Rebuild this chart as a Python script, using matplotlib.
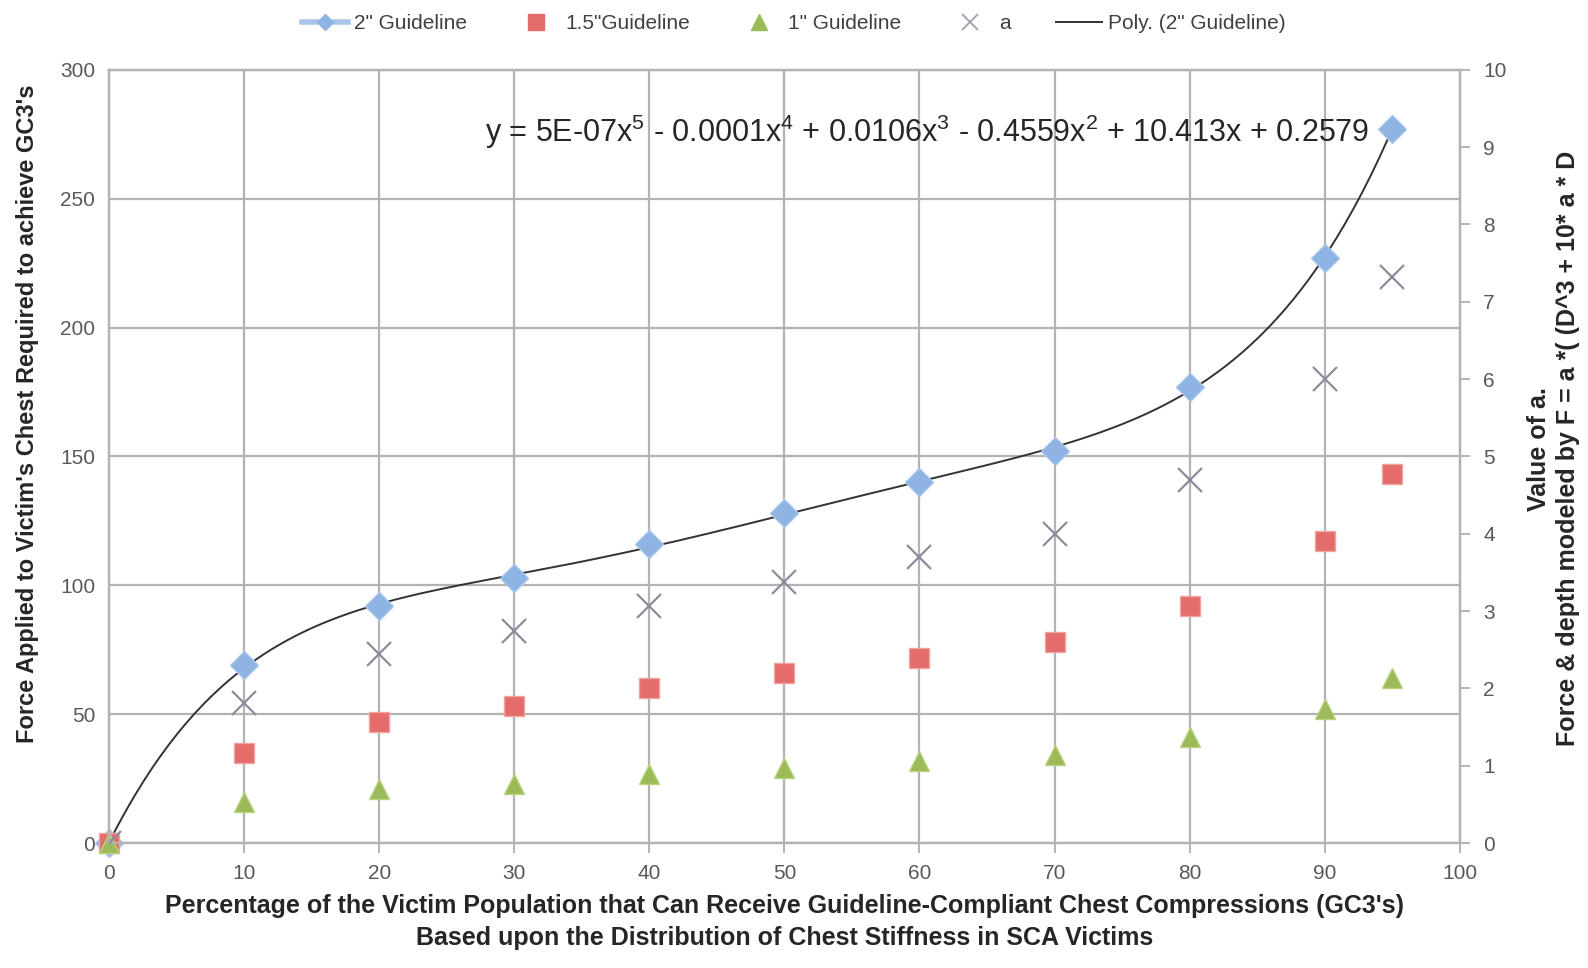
import numpy as np
import matplotlib.pyplot as plt
from matplotlib.lines import Line2D

# percent of victim population
pct = [0, 10, 20, 30, 40, 50, 60, 70, 80, 90, 95]

# force (left axis)
g2_in = [0, 69, 92, 103, 116, 128, 140, 152, 177, 227, 277]
g15_in = [0, 35, 47, 53, 60, 66, 72, 78, 92, 117, 143]
g1_in = [0, 16, 21, 23, 27, 29, 32, 34, 41, 52, 64]

# value of a (right axis)
a_val = [0, 1.81, 2.45, 2.74, 3.06, 3.37, 3.70, 4.0, 4.70, 6.0, 7.32]

eq_text = (r"y = 5E-07x$^{5}$ - 0.0001x$^{4}$ + 0.0106x$^{3}$ - 0.4559x$^{2}$"
           r" + 10.413x + 0.2579")

plt.rcParams['font.family'] = ['Liberation Sans', 'DejaVu Sans']
plt.rcParams['mathtext.default'] = 'regular'
plt.rcParams['mathtext.fontset'] = 'custom'
plt.rcParams['mathtext.rm'] = 'Liberation Sans'

tick_col = '#595959'
grid_col = '#b3b3b3'

fig = plt.figure(figsize=(15.88, 9.68), dpi=100)
ax = fig.add_axes([0.0687, 0.129, 0.8505, 0.799])
ax2 = ax.twinx()

# trendline: 5th order poly fit of the 2" data
coef = np.polyfit(pct, g2_in, 5)
xs = np.linspace(0, 95, 300)
ax.plot(xs, np.polyval(coef, xs), color='#333333', lw=1.4, zorder=3)

ax.plot(pct, g2_in, ls='none', marker='D', ms=14, color='#8eb4e3', mec='#a9c6ea', zorder=4, clip_on=False)
ax.plot(pct, g15_in, ls='none', marker='s', ms=15, color='#e46c6a', mec='#f0a3a1', zorder=4, clip_on=False)
ax.plot(pct, g1_in, ls='none', marker='^', ms=15, color='#9bbb59', mec='#b8d27d', zorder=4, clip_on=False)
ax2.plot(pct, a_val, ls='none', marker='x', ms=17, mew=1.6, color='#8c8c9c', zorder=4)

ax.text(93.3, 276, eq_text, ha='right', va='center', fontsize=22, color='#262626')

ax.set_xlim(0, 100)
ax.set_ylim(0, 300)
ax2.set_ylim(0, 10)
ax.set_xticks(range(0, 101, 10))
ax.set_yticks(range(0, 301, 50))
ax2.set_yticks(range(0, 11))

ax.grid(True, color=grid_col, lw=1.6)
ax.set_axisbelow(True)
for a in (ax, ax2):
    for s in a.spines.values():
        s.set_color(grid_col)
        s.set_linewidth(1.6)
ax.tick_params(axis='both', colors=tick_col, labelsize=15, length=7, width=1.4, color=grid_col)
ax.tick_params(axis='y', length=0, pad=10)
ax2.tick_params(axis='y', colors=tick_col, labelsize=15, length=7, width=1.4, color=grid_col, pad=10)
ax.tick_params(axis='x', pad=8)

ax.set_xlabel("Percentage of the Victim Population that Can Receive Guideline-Compliant Chest Compressions (GC3's)\n"
              "Based upon the Distribution of Chest Stiffness in SCA Victims",
              fontsize=18, fontweight='bold', color='#262626', labelpad=8, linespacing=1.4)
ax.set_ylabel("Force Applied to Victim's Chest Required to achieve GC3's",
              fontsize=17, fontweight='bold', color='#262626')
ax.yaxis.set_label_coords(-0.052, 0.555)
ax2.set_ylabel("Value of a.\nForce & depth modeled by F = a *( (D^3 + 10* a * D",
               fontsize=18, fontweight='bold', color='#262626', linespacing=1.25)
ax2.yaxis.set_label_coords(1.05, 0.51)

handles = [
    Line2D([], [], color='#a9c6ea', lw=4, marker='D', ms=8, mfc='#8eb4e3', mec='#8eb4e3'),
    Line2D([], [], ls='none', marker='s', ms=11, color='#e46c6a'),
    Line2D([], [], ls='none', marker='^', ms=11, color='#9bbb59'),
    Line2D([], [], ls='none', marker='x', ms=11, mew=1.4, color='#a6a6b0'),
    Line2D([], [], color='#333333', lw=1.4),
]
labels = ['2" Guideline', '1.5"Guideline', '1" Guideline', 'a', 'Poly. (2" Guideline)']
leg = fig.legend(handles, labels, loc='upper center', bbox_to_anchor=(0.5, 1.005), ncol=5,
                 frameon=False, fontsize=15, handlelength=2.2, columnspacing=2.2, handletextpad=0.3)
for t in leg.get_texts():
    t.set_color('#404040')

fig.savefig('out.png', dpi=100)
